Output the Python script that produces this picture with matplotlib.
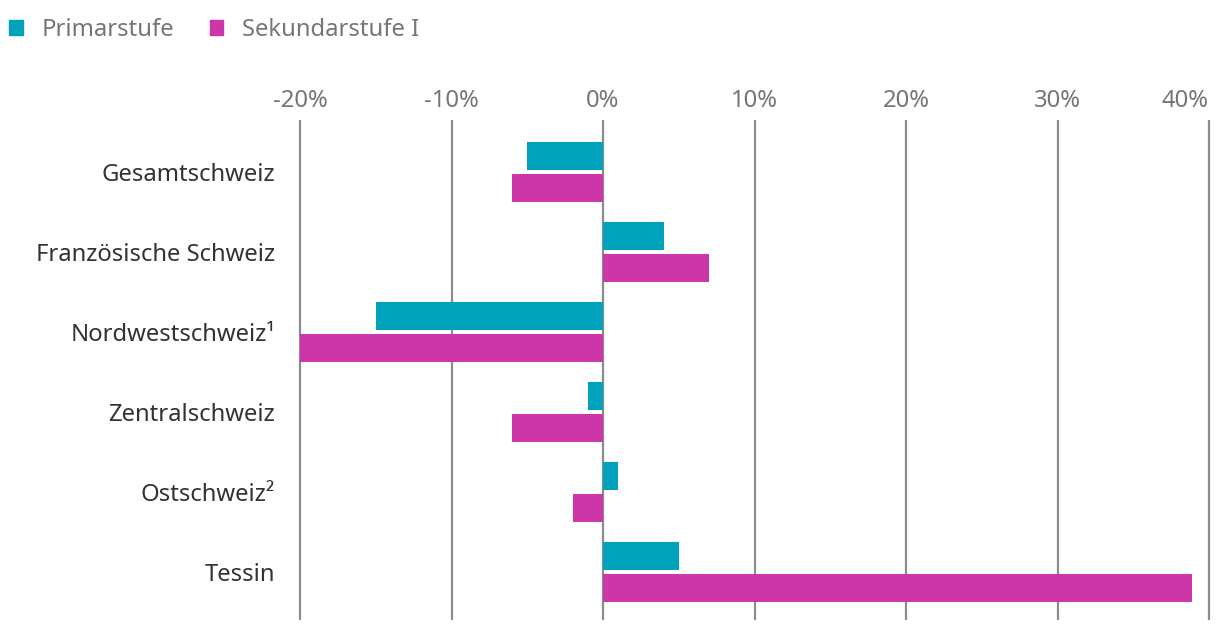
import matplotlib.pyplot as plt
from matplotlib.patches import Patch
from matplotlib.ticker import FuncFormatter

plt.rcParams['font.family'] = ['Noto Sans', 'DejaVu Sans']

# Data (percent change)
regions = ['Gesamtschweiz', 'Französische Schweiz', 'Nordwestschweiz¹',
           'Zentralschweiz', 'Ostschweiz²', 'Tessin']
primar = [-5, 4, -15, -1, 1, 5]
sekundar = [-6, 7, -20, -6, -2, 38.9]
series_names = ['Primarstufe', 'Sekundarstufe I']
x_ticks = [-20, -10, 0, 10, 20, 30, 40]

col_primar = '#00A3BB'
col_sek = '#CC36A8'
grid_col = '#8C8C8C'
text_col = '#333333'
tick_col = '#767676'
fs = 17.2

W, H = 1220, 634
fig = plt.figure(figsize=(W / 100, H / 100), dpi=100)
# axes in pixel coordinates: left 296, right 1213, top 120, bottom 620
ax = fig.add_axes([296 / W, 1 - 620 / H, (1213 - 296) / W, (620 - 120) / H])

pos = list(range(len(regions)))
bar_h = 28 / 80
gap = 4 / 80
ax.barh([p - (bar_h + gap) / 2 for p in pos], primar, height=bar_h,
        color=col_primar, zorder=3)
ax.barh([p + (bar_h + gap) / 2 for p in pos], sekundar, height=bar_h,
        color=col_sek, zorder=3)

ax.set_xlim(-20 - 4 / 15.15, 40 + 4 / 15.15)
ax.set_ylim(5.6, -0.65)

ax.set_xticks(x_ticks)
ax.xaxis.set_major_formatter(FuncFormatter(lambda v, p: f'{v:.0f}%'))
ax.xaxis.tick_top()
ax.tick_params(axis='x', length=0, pad=5, labelsize=fs, labelcolor=tick_col)
ax.get_xticklabels()[-1].set_horizontalalignment('right')
ax.set_yticks(pos)
ax.set_yticklabels(regions)
ax.tick_params(axis='y', length=0, pad=15, labelsize=fs, labelcolor=text_col)

ax.grid(axis='x', color=grid_col, linewidth=1.6, zorder=0)
ax.set_axisbelow(True)
for s in ax.spines.values():
    s.set_visible(False)

handles = [Patch(color=col_primar), Patch(color=col_sek)]
fig.legend(handles, series_names, loc='upper left', bbox_to_anchor=(-0.006, 0.998),
           ncol=2, frameon=False, fontsize=fs, labelcolor=tick_col,
           handlelength=0.55, handleheight=0.55, handletextpad=0.8,
           columnspacing=1.5, borderaxespad=0.3)

fig.savefig('out.png', dpi=100)
